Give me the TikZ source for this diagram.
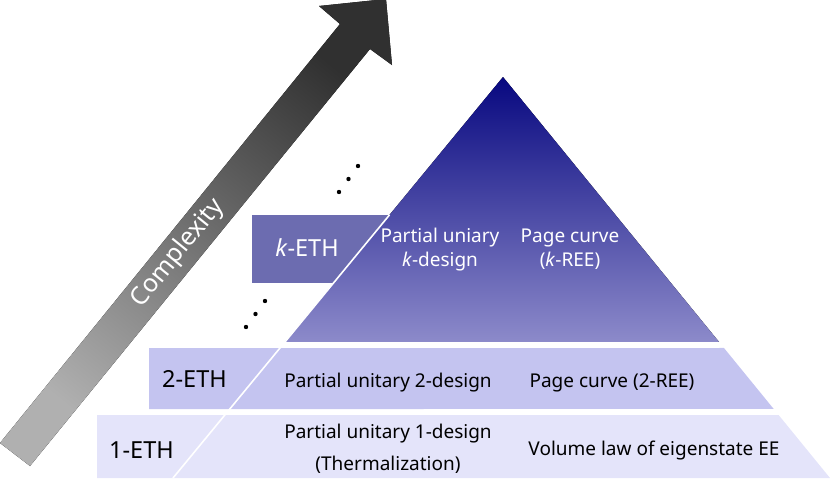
\documentclass[tikz,border=0pt]{standalone}
\usepackage{fontspec}
\setmainfont{Noto Sans}
\usetikzlibrary{calc}
\definecolor{bandone}{RGB}{228,228,250}
\definecolor{bandtwo}{RGB}{196,196,240}
\definecolor{bandk}{RGB}{108,108,176}
\definecolor{tritop}{RGB}{8,8,128}
\definecolor{tribot}{RGB}{140,138,202}
\definecolor{arrdark}{RGB}{48,48,48}
\definecolor{arrlight}{RGB}{176,176,176}
\begin{document}
\begin{tikzpicture}[x=1pt,y=-1pt,
  lbl/.style={font=\fontsize{23.5}{28}\selectfont,inner sep=0pt,anchor=base},
  txt/.style={font=\fontsize{19}{24}\selectfont,inner sep=0pt,anchor=base}]
\useasboundingbox (0,0) rectangle (831,480);
\coordinate (apex) at (503,77);
\coordinate (bl) at (173,478);
\coordinate (br) at (830,478);

\fill[top color=arrdark, bottom color=arrlight, shading angle=-39]
  (0,443) -- (340,24) -- (319,6) -- (386,-1) -- (392,65) -- (370,49) -- (30,466) -- cycle;
\node[font=\fontsize{25}{30}\selectfont, text=white, rotate=51, inner sep=0pt] (cplx) at (178,253) {Complexity};

\fill[bandone] (97,415) -- ($(apex)!0.8429!(br)$) -- (br) -- (97,478) -- cycle;
\fill[bandtwo] (149,348) -- ($(apex)!0.6758!(br)$) -- ($(apex)!0.8279!(br)$) -- (149,409) -- cycle;
\fill[bandk] (252,215) rectangle (395,283);
\fill[top color=tritop, bottom color=tribot]
  (apex) -- ($(apex)!0.6608!(br)$) -- ($(apex)!0.6608!(bl)$) -- cycle;
\draw[white, line width=1.6pt] ($(apex)!0.3441!(bl)$) -- (bl);

\foreach \x/\y in {339/192, 348.5/179, 358/166, 246/327, 255.5/314, 265/301}
  \fill (\x,\y) circle (2.2);

\node[lbl, text=white] (keth) at (307,256) {\textit{k}-ETH};
\node[lbl] (eth2) at (194.5,387) {2-ETH};
\node[lbl] (eth1) at (141.5,458) {1-ETH};

\node[txt, text=white] (kdes1) at (440,242) {Partial uniary};
\node[txt, text=white] (kdes2) at (440,266) {\textit{k}-design};
\node[txt, text=white] (kpage1) at (570,242) {Page curve};
\node[txt, text=white] (kpage2) at (570,266) {(\textit{k}-REE)};

\node[txt] (des2) at (388,387) {Partial unitary 2-design};
\node[txt] (page2) at (612,387) {Page curve (2-REE)};

\node[txt] (des1a) at (388,438) {Partial unitary 1-design};
\node[txt] (des1b) at (388,470) {(Thermalization)};
\node[txt] (vol) at (654,455) {Volume law of eigenstate EE};
\end{tikzpicture}
\end{document}
